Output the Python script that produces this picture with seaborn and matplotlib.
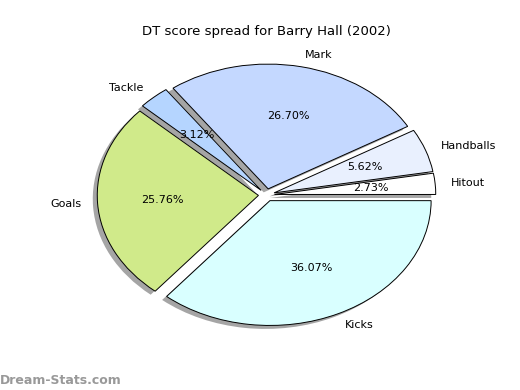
import matplotlib
matplotlib.use("Agg")
import matplotlib.pyplot as plt
import seaborn as sns

labels = ["Hitout", "Handballs", "Mark", "Tackle", "Goals", "Kicks"]
shares = [2.73, 5.62, 26.70, 3.12, 25.76, 36.07]
colors = ["#ffffff", "#e9f0fe", "#c4d8ff", "#b5d5ff", "#d0ea8a", "#d9ffff"]

sns.set_style("white")
plt.rcParams['font.family'] = ['DejaVu Sans']
plt.rcParams['text.color'] = 'black'

fig = plt.figure(figsize=(5.2, 3.9), dpi=100)
ax = fig.add_axes([0.125, 0.1, 0.775, 0.8])

wedges, texts, autotexts = ax.pie(
    shares, labels=labels, colors=colors, explode=[0.05] * len(shares),
    autopct="%1.2f%%", startangle=0,
    shadow=dict(facecolor="#7f7f7f", edgecolor="none", alpha=0.7),
    wedgeprops=dict(edgecolor="black", linewidth=0.7),
    textprops=dict(fontsize=8, color="black"),
)
ax.set_aspect("auto")
ax.set_xlim(-1.25, 1.25)
ax.set_ylim(-1.25, 1.25)
ax.set_title("DT score spread for Barry Hall (2002)", fontsize=9.5, pad=3, color="black")

fig.text(0.0, 0.015, "Dream-Stats.com", fontsize=9, color="#999999", fontweight="bold")

fig.savefig("out.png", dpi=100)
